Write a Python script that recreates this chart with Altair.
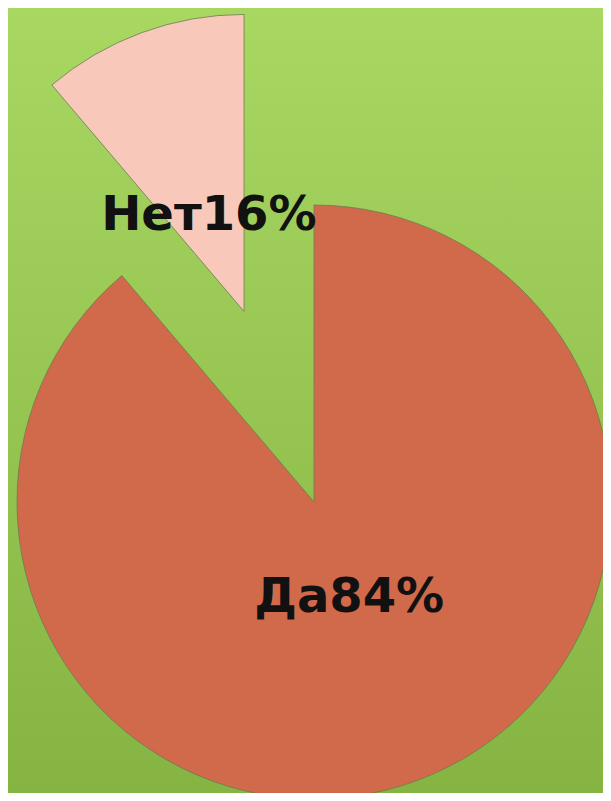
import altair as alt
import pandas as pd

# data
categories = ["Да", "Нет"]
shares = [0.888, 0.112]          # angular share as drawn
labels = ["Да84%", "Нет16%"]
colors = ["#D06A4A", "#F8C9BB"]

W, H = 595, 785
CX, CY = 306, 494
R = 297
EXPLODE = 203

df = pd.DataFrame({
    "category": categories,
    "share": shares,
    "label": labels,
    "order": list(range(len(categories))),
})

base = alt.Chart(df).transform_window(
    cum="sum(share)", sort=[alt.SortField("order")]
).transform_calculate(
    start="(datum.cum - datum.share) * 2 * PI",
    end="datum.cum * 2 * PI",
).transform_calculate(
    mid="(datum.start + datum.end) / 2",
    explode=f"datum.category == 'Нет' ? {EXPLODE} : 0",
).transform_calculate(
    cx=f"{CX} + datum.explode * sin(datum.mid)",
    cy=f"{CY} - datum.explode * cos(datum.mid)",
)

arcs = base.mark_arc(radius=R, stroke="#6E7A50", strokeWidth=1, strokeOpacity=0.8).encode(
    x=alt.X("cx:Q", scale=None, axis=None),
    y=alt.Y("cy:Q", scale=None, axis=None),
    theta=alt.Theta("start:Q", scale=None),
    theta2="end:Q",
    color=alt.Color("category:N", scale=alt.Scale(domain=categories, range=colors), legend=None),
)

texts = base.mark_text(
    radius=102, font="DejaVu Sans", fontWeight="bold", fontSize=48,
    fill="#111111", align="center", baseline="middle",
).encode(
    x=alt.X("cx:Q", scale=None, axis=None),
    y=alt.Y("cy:Q", scale=None, axis=None),
    theta=alt.Theta("mid:Q", scale=None),
    text="label:N",
)

bg = alt.Chart(pd.DataFrame({"a": [0]})).mark_rect(
    color=alt.Gradient(
        gradient="linear",
        stops=[alt.GradientStop(color="#A8D762", offset=0),
               alt.GradientStop(color="#86B443", offset=1)],
        x1=0, x2=0, y1=0, y2=1,
    )
).encode(x=alt.value(0), x2=alt.value(W), y=alt.value(0), y2=alt.value(H))

chart = alt.layer(bg, arcs, texts).properties(
    width=W, height=H, padding=0, autosize=alt.AutoSizeParams(type="none")
).configure_view(stroke=None)

chart.save("out.html", embed_options={"renderer": "svg", "actions": False})
